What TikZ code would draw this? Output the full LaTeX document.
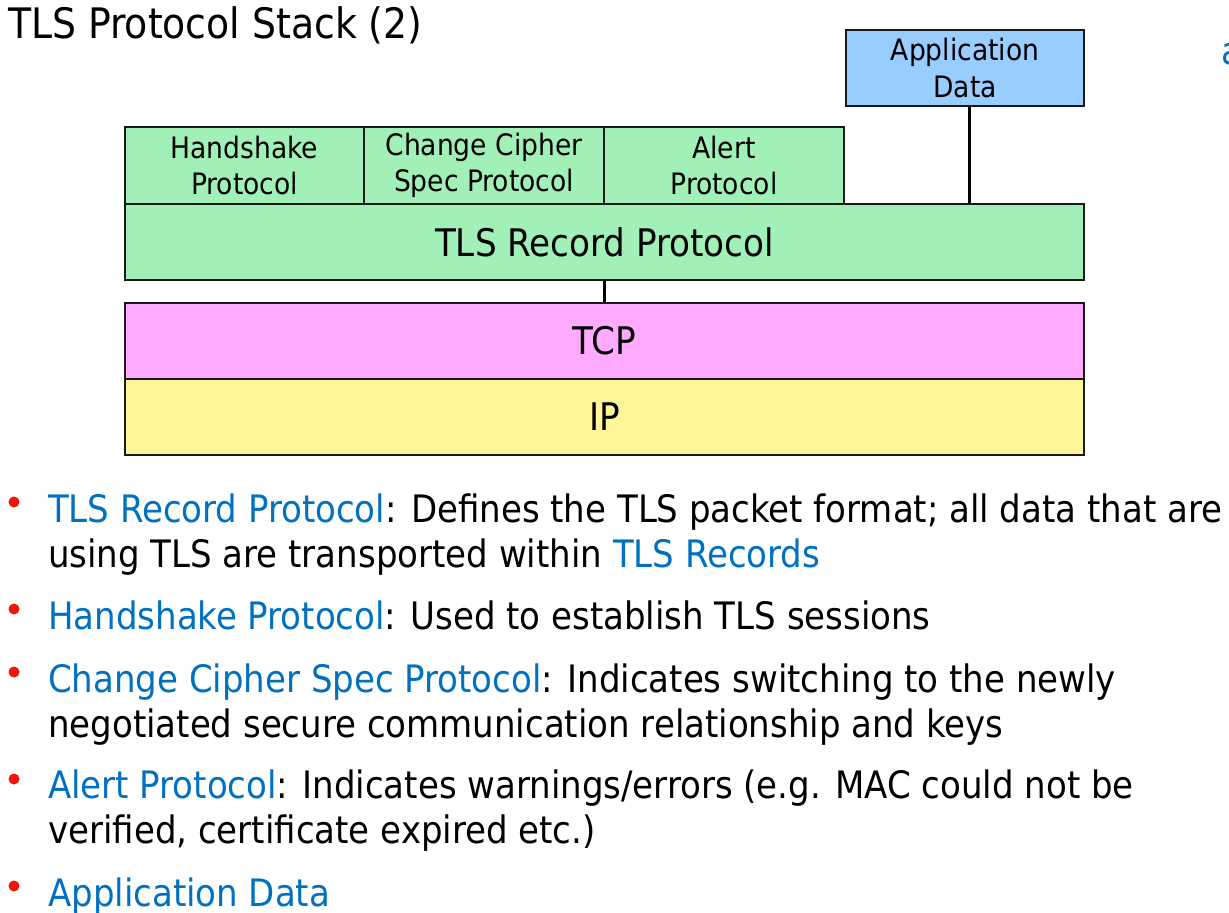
\documentclass[tikz,border=0pt]{standalone}
\usepackage{fontspec}
\setmainfont{DejaVu Sans Condensed}
\definecolor{gbox}{RGB}{160,240,184}
\definecolor{pbox}{RGB}{255,170,255}
\definecolor{ybox}{RGB}{255,246,154}
\definecolor{bbox}{RGB}{153,204,255}
\definecolor{tblue}{RGB}{0,112,192}
\definecolor{bred}{RGB}{240,20,10}
\begin{document}
\begin{tikzpicture}[x=1pt,y=-1pt,
  layer/.style={draw=black!90,line width=2pt,inner sep=0pt,align=center},
  small/.style={font=\fontsize{29.5}{36}\selectfont},
  big/.style={font=\fontsize{38}{44}\selectfont},
  conn/.style={line width=3pt},
  bullet/.style={circle,fill=bred,inner sep=0pt,minimum size=11pt},
  btext/.style={anchor=base west,inner sep=0pt,align=left,font=\fontsize{37.8}{45}\selectfont},
  hl/.style={text=tblue}]
\useasboundingbox (0,0) rectangle (1229,913);
\node[anchor=base west,inner sep=0pt,font=\fontsize{42}{48}\selectfont] (title) at (8,38) {TLS Protocol Stack (2)};
\begin{scope}
\clip (0,0) rectangle (1229,913);
\node[anchor=base west,inner sep=0pt,text=tblue,font=\fontsize{38}{45}\selectfont] (pg) at (1221,64) {a};
\end{scope}
% boxes
\node[layer,small,fill=bbox,minimum width=238pt,minimum height=76pt] (app) at (965,68) {Application\\Data};
\node[layer,small,fill=gbox,minimum width=239pt,minimum height=77pt] (hs) at (244.5,165.5) {Handshake\\Protocol};
\node[layer,small,fill=gbox,minimum width=240pt,minimum height=77pt] (ccs) at (484,165.5) {Change Cipher\\Spec Protocol};
\node[layer,small,fill=gbox,minimum width=240pt,minimum height=77pt] (alert) at (724,165.5) {Alert\\Protocol};
\node[layer,big,fill=gbox,minimum width=959pt,minimum height=76pt] (rec) at (604.5,242) {TLS Record Protocol};
\node[layer,big,fill=pbox,minimum width=959pt,minimum height=76pt] (tcp) at (604.5,341) {TCP};
\node[layer,big,fill=ybox,minimum width=959pt,minimum height=76pt] (ip) at (604.5,417) {IP};
\draw[conn] ([xshift=4pt]app.south) -- ([xshift=4pt]app.south |- rec.north);
\draw[conn] (rec.south) -- (tcp.north);
% bullets (base anchor = last line baseline)
\node[bullet] (b1) at (14,502) {};
\node[btext] (t1) at (48,567) {\textcolor{tblue}{TLS Record Protocol}: Defines the TLS packet format; all data that are\\using TLS are transported within \textcolor{tblue}{TLS Records}};
\node[bullet] (b2) at (14,609) {};
\node[btext] (t2) at (48,629) {\textcolor{tblue}{Handshake Protocol}: Used to establish TLS sessions};
\node[bullet] (b3) at (14,672) {};
\node[btext] (t3) at (48,737) {\textcolor{tblue}{Change Cipher Spec Protocol}: Indicates switching to the newly\\negotiated secure communication relationship and keys};
\node[bullet] (b4) at (14,779) {};
\node[btext] (t4) at (48,843) {\textcolor{tblue}{Alert Protocol}: Indicates warnings/errors (e.g. MAC could not be\\verified, certificate expired etc.)};
\node[bullet] (b5) at (14,886) {};
\node[btext] (t5) at (48,906) {\textcolor{tblue}{Application Data}};
\end{tikzpicture}
\end{document}
